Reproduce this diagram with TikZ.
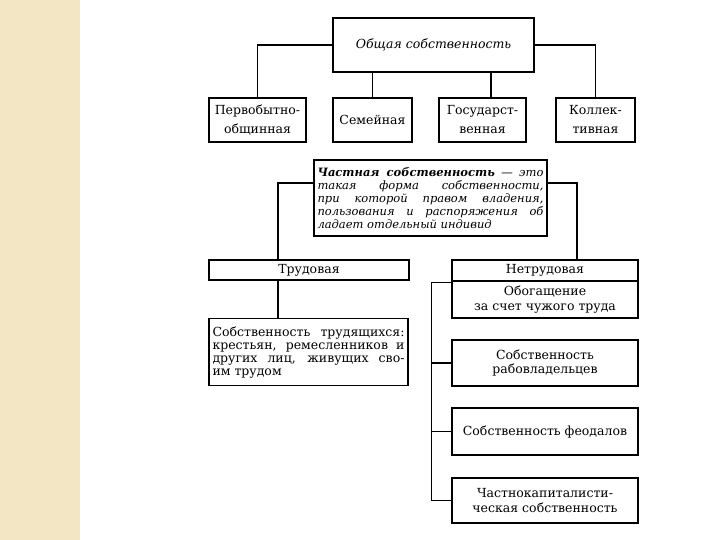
\documentclass[tikz,border=0pt]{standalone}
\usepackage{fontspec}
\setmainfont{DejaVu Serif}
\usepackage{xcolor}
\usetikzlibrary{positioning,calc}
\definecolor{stripbeige}{RGB}{242,230,197}
\tikzset{
    kind/.style={draw,line width=1.3pt,align=center,inner sep=2pt,
        font=\fontsize{12.5}{14.5}\selectfont},
    para/.style={draw,line width=1.3pt,align=justify,inner sep=4pt,
        font=\fontsize{12.5}{13}\selectfont},
    link/.style={line width=1.3pt}
}
\begin{document}
\begin{tikzpicture}[x=1pt,y=-1pt]
    \useasboundingbox (0,0) rectangle (720,540);
    % Left strip
    \fill[stripbeige] (0,0) rectangle (80,540);
    % Common property
    \node[kind,minimum width=201pt,minimum height=54pt,font=\fontsize{12.5}{14.5}\selectfont\itshape] (common) at (433.5,45) {Общая собственность};
    \node[kind,minimum width=97pt,minimum height=44pt,font=\fontsize{12.5}{19}\selectfont] (primitive) at (257.5,120) {Первобытно-\\общинная};
    \node[kind,minimum width=79pt,minimum height=44pt] (family) at (372.5,120) {Семейная};
    \node[kind,minimum width=87pt,minimum height=44pt,font=\fontsize{12.5}{19}\selectfont] (state) at (482.5,120) {Государст-\\венная};
    \node[kind,minimum width=79pt,minimum height=44pt,font=\fontsize{12.5}{19}\selectfont] (collective) at (595.5,120) {Коллек-\\тивная};
    \draw[link] (common.west) -| (primitive.north);
    \draw[link] (family.north) -- (family.north |- common.south);
    \draw[link] ([xshift=8.5pt]state.north) -- ([xshift=8.5pt]state.north |- common.south);
    \draw[link] (common.east) -| (collective.north);
    % Private property
    \node[para,text width=226pt,minimum height=76pt,inner sep=3.5pt,font=\fontsize{11.5}{13}\selectfont\itshape] (private) at (430.5,198)
        {\textbf{Частная собственность} — это\linebreak такая форма собственности,\linebreak при которой правом владения,\linebreak пользования и распоряжения об\linebreak ладает отдельный индивид};
    \node[kind,minimum width=200pt,minimum height=20pt] (labour) at (309,270) {Трудовая};
    \node[kind,minimum width=186pt,minimum height=21pt] (nonlabour) at (545,270.5) {Нетрудовая};
    \draw[link] ([yshift=15pt]private.west) -| ([xshift=-31pt]labour.north);
    \draw[link] ([yshift=15pt]private.east) -| ([xshift=32pt]nonlabour.north);
    % Labour branch
    \node[para,text width=192pt,minimum height=67pt,inner sep=3.5pt,anchor=north] (workers) at (308.5,318)
        {Собственность трудящихся:\linebreak крестьян, ремесленников и\linebreak других лиц, живущих сво-\linebreak им трудом};
    \draw[link] ([xshift=-31pt]labour.south) -- ([xshift=-31pt]labour.south |- workers.north);
    % Non-labour branch
    \node[kind,minimum width=186pt,minimum height=37pt] (enrich) at (545,299.5) {Обогащение\\за счет чужого труда};
    \node[kind,minimum width=186pt,minimum height=46pt] (slave) at (545,363) {Собственность\\рабовладельцев};
    \node[kind,minimum width=186pt,minimum height=47pt] (feudal) at (545,431.5) {Собственность феодалов};
    \node[kind,minimum width=186pt,minimum height=45pt] (capital) at (545,500.5) {Частнокапиталисти-\\ческая собственность};
    \draw[link] ([yshift=-2pt]enrich.north west) -- ++(-20,0) |- (capital.west);
    \draw[link] (slave.west) -- ++(-20,0);
    \draw[link] (feudal.west) -- ++(-20,0);
\end{tikzpicture}
\end{document}
